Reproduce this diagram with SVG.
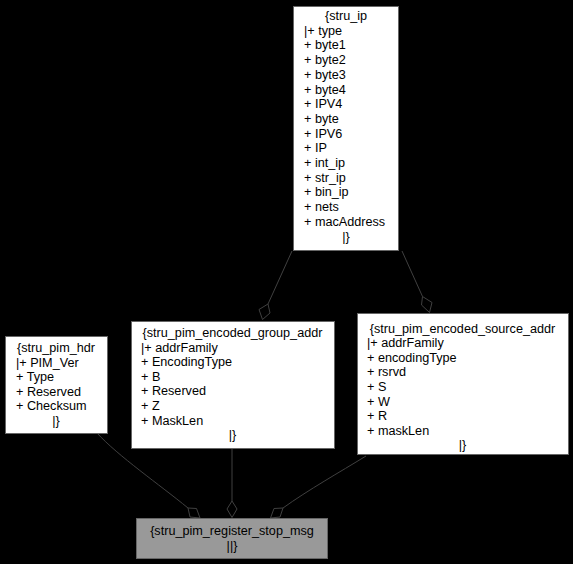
<svg xmlns="http://www.w3.org/2000/svg" width="573" height="564" viewBox="0 0 573 564">
<style>
.box{fill:#ffffff;stroke:#666666;stroke-width:1}
.cur{fill:#999999;stroke:#666666;stroke-width:1}
.t{font-family:"Liberation Sans",Arial,sans-serif;font-size:12.65px;fill:#000000}
.c{text-anchor:middle}
.e{fill:none;stroke:#404040;stroke-width:1}
.d{fill:none;stroke:#404040;stroke-width:1}
</style>
<rect x="0" y="0" width="573" height="564" fill="#000000"/>
<g id="edges">
<path class="e" d="M292,251 L268,304"/>
<polygon class="d" points="268,304 270,313 262.5,319.5 259,309.5"/>
<path class="e" d="M402,251 L422.5,296.5"/>
<polygon class="d" points="422.5,296.5 432,302.5 429.5,312.5 421.5,305"/>
<path class="e" d="M97,433 C118,456 160,485 188,508"/>
<polygon class="d" points="188,508 196.5,508.5 200,518 190,517"/>
<path class="e" d="M232,448 L232,501"/>
<polygon class="d" points="232,501 237,509 232,517.5 227,509"/>
<path class="e" d="M366,456 C340,472 308,490 283,508"/>
<polygon class="d" points="283,508 274,508.5 270.5,518 280,517"/>
</g>
<g id="stru_ip">
<rect class="box" x="293.5" y="6.5" width="105" height="244"/>
<text class="t c" x="346" y="20">{stru_ip</text>
<text class="t" x="304" y="34.7">|+ type</text>
<text class="t" x="304" y="49.4">+ byte1</text>
<text class="t" x="304" y="64.1">+ byte2</text>
<text class="t" x="304" y="78.8">+ byte3</text>
<text class="t" x="304" y="93.5">+ byte4</text>
<text class="t" x="304" y="108.2">+ IPV4</text>
<text class="t" x="304" y="122.9">+ byte</text>
<text class="t" x="304" y="137.6">+ IPV6</text>
<text class="t" x="304" y="152.3">+ IP</text>
<text class="t" x="304" y="167">+ int_ip</text>
<text class="t" x="304" y="181.7">+ str_ip</text>
<text class="t" x="304" y="196.4">+ bin_ip</text>
<text class="t" x="304" y="211.1">+ nets</text>
<text class="t" x="304" y="225.8">+ macAddress</text>
<text class="t c" x="346" y="240.5">|}</text>
</g>
<g id="stru_pim_hdr">
<rect class="box" x="5.5" y="336.5" width="102" height="97"/>
<text class="t c" x="56" y="352">{stru_pim_hdr</text>
<text class="t" x="16" y="366.6">|+ PIM_Ver</text>
<text class="t" x="16" y="381.2">+ Type</text>
<text class="t" x="16" y="395.8">+ Reserved</text>
<text class="t" x="16" y="410.4">+ Checksum</text>
<text class="t c" x="56" y="425">|}</text>
</g>
<g id="stru_pim_encoded_group_addr">
<rect class="box" x="131.5" y="321.5" width="203" height="127"/>
<text class="t c" x="232.5" y="337">{stru_pim_encoded_group_addr</text>
<text class="t" x="141" y="351.6">|+ addrFamily</text>
<text class="t" x="141" y="366.2">+ EncodingType</text>
<text class="t" x="141" y="380.8">+ B</text>
<text class="t" x="141" y="395.4">+ Reserved</text>
<text class="t" x="141" y="410">+ Z</text>
<text class="t" x="141" y="424.6">+ MaskLen</text>
<text class="t c" x="232.5" y="439.2">|}</text>
</g>
<g id="stru_pim_encoded_source_addr">
<rect class="box" x="357.5" y="313.5" width="211" height="141"/>
<text class="t c" x="462.5" y="332.5">{stru_pim_encoded_source_addr</text>
<text class="t" x="367" y="347.1">|+ addrFamily</text>
<text class="t" x="367" y="361.7">+ encodingType</text>
<text class="t" x="367" y="376.3">+ rsrvd</text>
<text class="t" x="367" y="390.9">+ S</text>
<text class="t" x="367" y="405.5">+ W</text>
<text class="t" x="367" y="420.1">+ R</text>
<text class="t" x="367" y="434.7">+ maskLen</text>
<text class="t c" x="462.5" y="449.3">|}</text>
</g>
<g id="stru_pim_register_stop_msg">
<rect class="cur" x="136.5" y="518.5" width="191" height="40"/>
<text class="t c" x="232" y="535">{stru_pim_register_stop_msg</text>
<text class="t c" x="232" y="549.6">||}</text>
</g>
</svg>
